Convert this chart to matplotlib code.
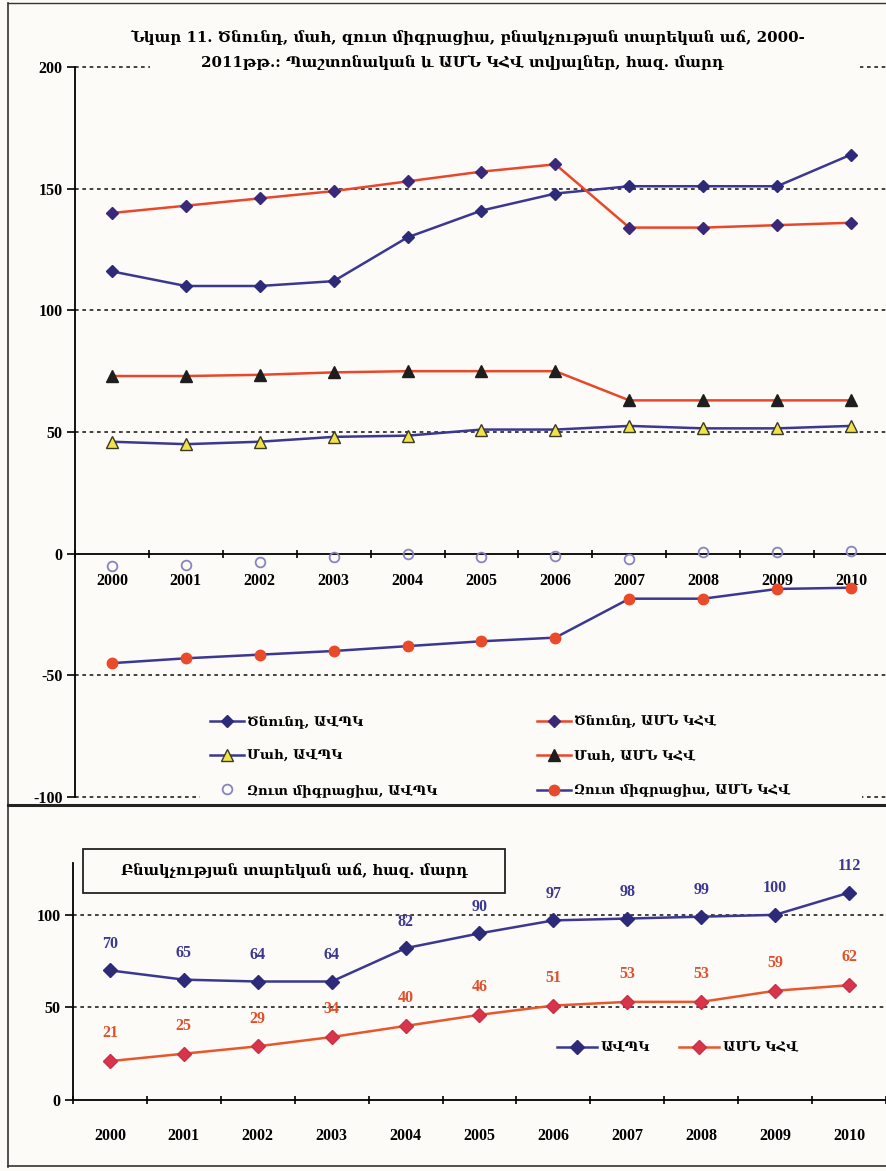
import numpy as np
import matplotlib
matplotlib.use('Agg')
import matplotlib.pyplot as plt
from matplotlib.lines import Line2D
from matplotlib.patches import Rectangle

# data, thousands of people
years = [2000, 2001, 2002, 2003, 2004, 2005, 2006, 2007, 2008, 2009, 2010]
birth_official = [116, 110, 110, 112, 130, 141, 148, 151, 151, 151, 164]
birth_cia = [140, 143, 146, 149, 153, 157, 160, 134, 134, 135, 136]
death_official = [46, 45, 46, 48, 48.5, 51, 51, 52.5, 51.5, 51.5, 52.5]
death_cia = [73, 73, 73.5, 74.5, 75, 75, 75, 63, 63, 63, 63]
migr_official = [-5, -4.5, -3.5, -1.5, 0, -1.5, -1, -2, 0.5, 0.5, 1]
migr_cia = [-45, -43, -41.5, -40, -38, -36, -34.5, -18.5, -18.5, -14.5, -14]
growth_official = [70, 65, 64, 64, 82, 90, 97, 98, 99, 100, 112]
growth_cia = [21, 25, 29, 34, 40, 46, 51, 53, 53, 59, 62]

title_1 = 'Նկար 11. Ծնունդ, մահ, զուտ միգրացիա, բնակչության տարեկան աճ, 2000-'
title_2 = '2011թթ.: Պաշտոնական և ԱՄՆ ԿՀՎ տվյալներ, հազ. մարդ'
box_title = 'Բնակչության տարեկան աճ, հազ. մարդ'
src_off = 'ԱՎՊԿ'
src_cia = 'ԱՄՆ ԿՀՎ'

bg = '#fcfbf7'
blue = '#3b3792'
navy = '#2e2a7a'
red = '#e9472b'
arm = ['DejaVu Serif', 'DejaVu Sans']
num = 'Liberation Serif'

W, H = 887, 1171
def fx(p): return p / W
def fy(p): return 1 - p / H

fig = plt.figure(figsize=(W / 100, H / 100), dpi=100, facecolor=bg)
x = np.arange(len(years))
dots = (0, (2.2, 2.2))

def style_axis(ax, yticks, xpad):
    ax.set_facecolor('none')
    ax.set_xlim(-0.5, 10.5)
    for s in ['top', 'right']:
        ax.spines[s].set_visible(False)
    ax.spines['left'].set_linewidth(1.3)
    ax.spines['bottom'].set_linewidth(1.3)
    ax.set_yticks(yticks)
    ax.set_yticklabels([str(v) for v in yticks], fontfamily=num, fontweight='bold', fontsize=11.5)
    ax.tick_params(axis='y', length=6, width=1.2, pad=3)
    ax.set_xticks(x)
    ax.set_xticklabels([str(y) for y in years], fontfamily=num, fontweight='bold', fontsize=11.5)
    ax.set_xticks(np.arange(-0.5, 11, 1), minor=True)
    ax.tick_params(axis='x', which='major', length=0, pad=xpad)
    ax.tick_params(axis='x', which='minor', length=6, width=1.2, direction='inout')

# ---- top panel ----
ax1 = fig.add_axes([fx(75), fy(797), fx(813), 730 / H])
ax1.set_ylim(-100, 200)
ax1.spines['bottom'].set_position(('data', 0))
style_axis(ax1, [-100, -50, 0, 50, 100, 150, 200], 14)
for v in [-100, -50, 50, 100, 150, 200]:
    ax1.axhline(v, color='#222222', lw=1.2, ls=dots, zorder=1, clip_on=False)

# white areas behind title and legend
ax1.add_artist(Rectangle((fx(150), fy(78)), fx(710), 62 / H, transform=fig.transFigure,
                         facecolor=bg, edgecolor='none', zorder=1.5, clip_on=False))
ax1.add_artist(Rectangle((fx(200), fy(806)), fx(662), 22 / H, transform=fig.transFigure,
                         facecolor=bg, edgecolor='none', zorder=1.5, clip_on=False))

l1, = ax1.plot(x, birth_official, color=blue, lw=1.8, marker='D', ms=6.5, mfc=navy, mec=navy, zorder=4)
l2, = ax1.plot(x, birth_cia, color=red, lw=1.8, marker='D', ms=6.5, mfc='#3a2878', mec='#3a2878', zorder=4)
l3, = ax1.plot(x, death_official, color=blue, lw=1.8, marker='^', ms=8, mfc='#f0e24a', mec='#3a3a20', zorder=4)
l4, = ax1.plot(x, death_cia, color=red, lw=1.8, marker='^', ms=8, mfc='#1e1e1e', mec='#1e1e1e', zorder=4)
l5, = ax1.plot(x, migr_official, ls='none', marker='o', ms=7, mfc='none', mec='#8784c0', mew=1.3, zorder=4)
l6, = ax1.plot(x, migr_cia, color=blue, lw=1.8, marker='o', ms=7.5, mfc='#e84a2a', mec='#e84a2a', zorder=4)

leg_font = {'family': arm, 'weight': 'bold', 'size': 9.5}
leg_a = ax1.legend([l1, l3, l5], ['Ծնունդ, ' + src_off, 'Մահ, ' + src_off, 'Զուտ միգրացիա, ' + src_off],
                   loc='center left', bbox_to_anchor=(fx(210), fy(756)), bbox_transform=fig.transFigure,
                   frameon=False, prop=leg_font, handlelength=2.6, handletextpad=0.2,
                   labelspacing=1.6, borderpad=0, borderaxespad=0)
ax1.add_artist(leg_a)
ax1.legend([l2, l4, l6], ['Ծնունդ, ' + src_cia, 'Մահ, ' + src_cia, 'Զուտ միգրացիա, ' + src_cia],
           loc='center left', bbox_to_anchor=(fx(537), fy(756)), bbox_transform=fig.transFigure,
           frameon=False, prop=leg_font, handlelength=2.6, handletextpad=0.2,
           labelspacing=1.6, borderpad=0, borderaxespad=0)

fig.text(fx(468), fy(37), title_1, ha='center', va='center', fontsize=10.8,
         fontweight='bold', family=arm, zorder=5)
fig.text(fx(462), fy(62), title_2, ha='center', va='center', fontsize=10.8,
         fontweight='bold', family=arm, zorder=5)

# ---- bottom panel ----
ax2 = fig.add_axes([fx(73), fy(1100), fx(813), 237 / H])
ax2.set_ylim(0, 128)
style_axis(ax2, [0, 50, 100], 20)
for v in [50, 100]:
    ax2.axhline(v, color='#222222', lw=1.2, ls=dots, zorder=1)

b1, = ax2.plot(x, growth_official, color=blue, lw=1.8, marker='D', ms=7, mfc=navy, mec=navy, zorder=4)
b2, = ax2.plot(x, growth_cia, color='#e8572c', lw=1.8, marker='D', ms=7, mfc='#d8344a', mec='#c8304a', zorder=4)
for i in range(len(years)):
    ax2.annotate(str(growth_official[i]), (x[i], growth_official[i]), xytext=(0, 19),
                 textcoords='offset points', ha='center', va='center', color=blue,
                 fontsize=11.5, fontweight='bold', fontfamily=num)
    ax2.annotate(str(growth_cia[i]), (x[i], growth_cia[i]), xytext=(0, 20),
                 textcoords='offset points', ha='center', va='center', color='#e0502a',
                 fontsize=11.5, fontweight='bold', fontfamily=num)

ax2.legend([b1, b2], [src_off, src_cia], loc='center left', bbox_to_anchor=(fx(557), fy(1048)),
           bbox_transform=fig.transFigure, ncol=2, frameon=False, prop=leg_font,
           handlelength=3.0, handletextpad=0.3, columnspacing=2.2, borderpad=0, borderaxespad=0)

fig.add_artist(Rectangle((fx(83), fy(893)), fx(422), 44 / H, transform=fig.transFigure,
                         facecolor=bg, edgecolor='#222222', lw=1.3, zorder=5))
fig.text(fx(294), fy(871), box_title, ha='center', va='center', fontsize=10.5,
         fontweight='bold', family=arm, zorder=6)

# outer frame and separator
fig.add_artist(Line2D([fx(8), fx(8)], [fy(3), fy(1167)], color='#333333', lw=1.2))
fig.add_artist(Line2D([fx(8), 1], [fy(3), fy(3)], color='#333333', lw=1.0))
fig.add_artist(Line2D([fx(8), 1], [fy(1166), fy(1166)], color='#333333', lw=1.2))
fig.add_artist(Line2D([fx(8), 1], [fy(805), fy(805)], color='#222222', lw=2.2))

fig.savefig('out.png', dpi=100, facecolor=bg)
